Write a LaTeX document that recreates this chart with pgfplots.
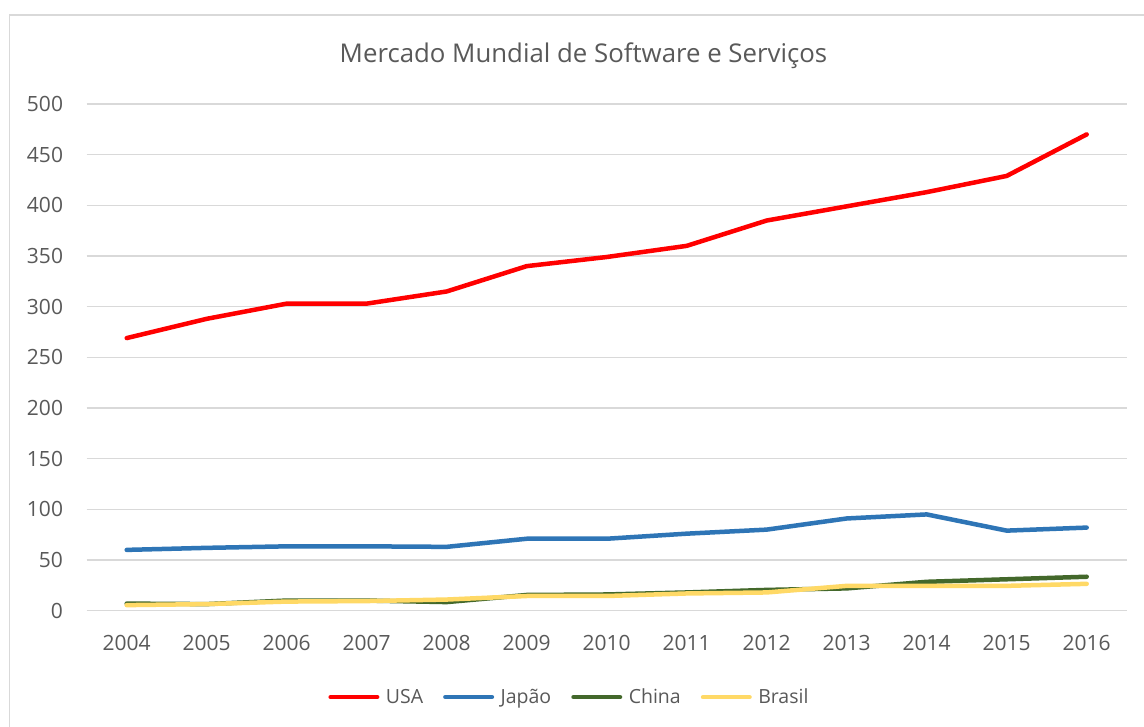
\documentclass[border=0pt]{standalone}
\usepackage{fontspec}
\setmainfont{Open Sans}
\usepackage{pgfplots}
\pgfplotsset{compat=1.18}
\definecolor{usa}{HTML}{FF0000}
\definecolor{jap}{HTML}{2E75B6}
\definecolor{chn}{HTML}{43682B}
\definecolor{bra}{HTML}{FFD966}
\definecolor{gridc}{HTML}{D9D9D9}
\definecolor{txt}{HTML}{595959}
\begin{document}
\begin{tikzpicture}
\useasboundingbox (0,0) rectangle (1144pt,727pt);
\fill[white] (0,0) rectangle (1144pt,727pt);
\draw[gridc, line width=1.5pt] (9.5pt,712pt) rectangle (1175pt,-20pt);
\node[anchor=base, font=\fontsize{25.8}{30}\selectfont, text=txt, inner sep=0pt] at (583.5pt,664pt) {Mercado Mundial de Software e Serviços};
\begin{axis}[
  at={(86.7pt,116.3pt)}, anchor=south west,
  scale only axis, width=1040pt, height=506.7pt,
  xmin=-0.5, xmax=12.5, ymin=0, ymax=500,
  xtick={0,1,2,3,4,5,6,7,8,9,10,11,12},
  xticklabels={2004,2005,2006,2007,2008,2009,2010,2011,2012,2013,2014,2015,2016},
  ytick={0,50,100,150,200,250,300,350,400,450,500},
  ymajorgrids, major grid style={gridc, line width=1.3pt},
  axis line style={draw=none}, tick style={draw=none},
  tick label style={font=\fontsize{21}{25}\selectfont, text=txt, inner sep=0pt},
  /pgf/number format/assume math mode=true,
  yticklabel style={anchor=east, xshift=-23.5pt},
  xticklabel style={anchor=north, yshift=-24.3pt},
  legend style={at={(0.4642,-0.1705)}, anchor=center, draw=none, fill=none,
    legend columns=4, font=\fontsize{19.5}{23}\selectfont, text=txt,
    nodes={inner sep=2pt},
    /tikz/every odd column/.append style={column sep=4.5pt},
    /tikz/every even column/.append style={column sep=18pt}},
  legend image code/.code={\draw[#1, line cap=round] (0pt,0pt) -- (46.5pt,0pt);},
  every axis plot/.append style={line width=4.5pt, line cap=round, line join=round},
]
\addplot[usa] coordinates {(0,269) (1,288) (2,303) (3,303) (4,315) (5,340) (6,349) (7,360) (8,385) (9,399) (10,413) (11,429) (12,470)};
\addlegendentry{USA}
\addplot[jap] coordinates {(0,60) (1,62) (2,63.5) (3,63.5) (4,63) (5,71) (6,71) (7,76) (8,80) (9,91) (10,95) (11,79) (12,82)};
\addlegendentry{Japão}
\addplot[chn] coordinates {(0,7) (1,6.5) (2,10) (3,10) (4,8.5) (5,15.5) (6,16) (7,18) (8,20.5) (9,22) (10,28.5) (11,31) (12,33.5)};
\addlegendentry{China}
\addplot[bra] coordinates {(0,5.5) (1,6.5) (2,9) (3,9.5) (4,11) (5,14.5) (6,14.5) (7,17) (8,18) (9,24.5) (10,24.5) (11,24.5) (12,26.5)};
\addlegendentry{Brasil}
\end{axis}
\end{tikzpicture}
\end{document}
